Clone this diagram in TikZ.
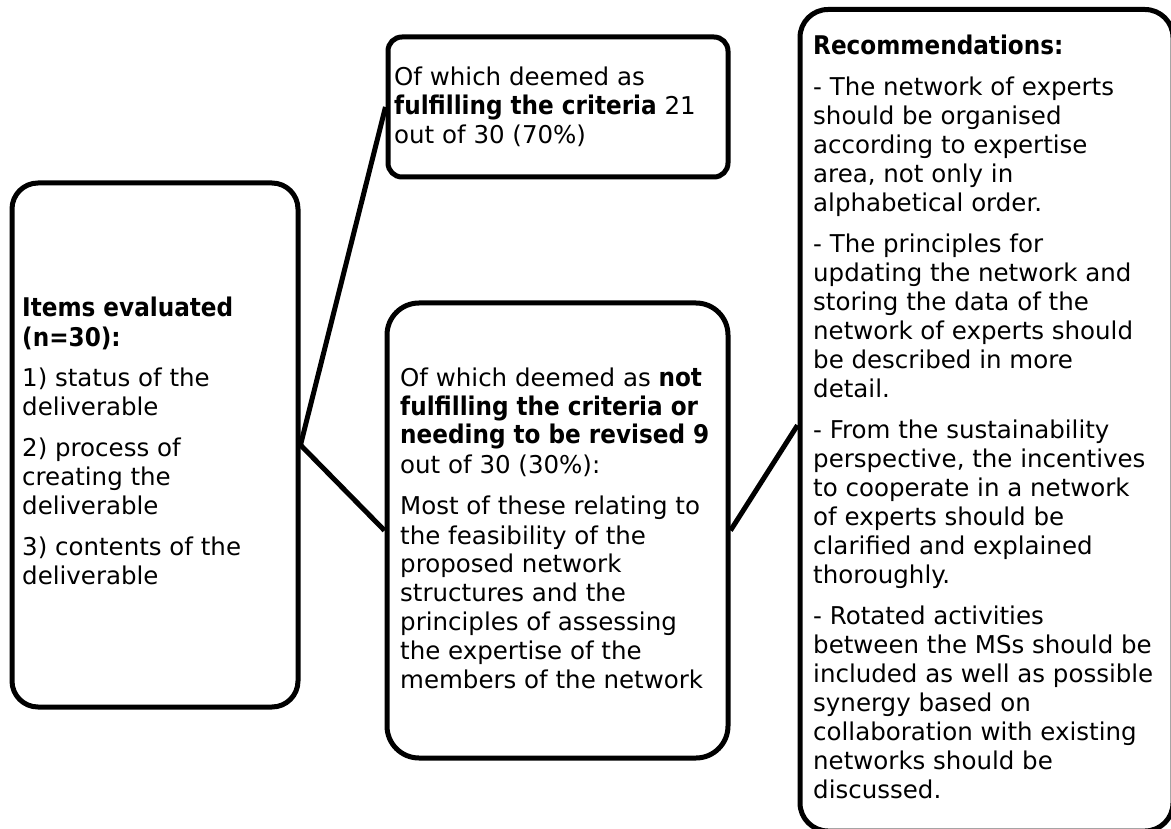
\documentclass[tikz,border=0pt]{standalone}
\usepackage{fontspec}
\setmainfont{DejaVu Sans}[BoldFont={DejaVu Sans Condensed Bold}, BoldFeatures={Scale=1.05}]
\begin{document}
\begin{tikzpicture}[x=1pt,y=-1pt,
  box/.style={draw=black, line width=5pt, fill=white, inner sep=0pt},
  link/.style={draw=black, line width=5pt},
  txt/.style={anchor=base west, inner sep=0pt, font=\fontsize{24.5}{29}\selectfont}]
\useasboundingbox (0,0) rectangle (1171,829);

% boxes (centre, size, corner radius)
\node[box, rounded corners=26pt, minimum width=286pt, minimum height=524pt] (items) at (155,445) {};
\node[box, rounded corners=14pt, minimum width=340pt, minimum height=140pt] (pass) at (558,107) {};
\node[box, rounded corners=32pt, minimum width=341pt, minimum height=455pt] (fail) at (557.5,530.5) {};
\node[box, rounded corners=28pt, minimum width=373pt, minimum height=821.5pt] (rec) at (986.5,420.25) {};

% connectors
\draw[link] (items.east) -- (pass.west);
\draw[link] (items.east) -- (fail.west);
\draw[link] (fail.east) -- ([yshift=-5pt]rec.west);

% texts
\node[txt] (itemstxt) at (22,317) {\parbox[t]{270pt}{\raggedright\parskip=12pt
\textbf{Items evaluated}\\\textbf{(n=30):}\par
1) status of the\\deliverable\par
2) process of\\creating the\\deliverable\par
3) contents of the\\deliverable}};

\node[txt] (passtxt) at (394,86) {\parbox[t]{330pt}{\raggedright
Of which deemed as\\\textbf{fulfilling the criteria} 21\\out of 30 (70\%)}};

\node[txt] (failtxt) at (400,386) {\parbox[t]{325pt}{\raggedright\parskip=13pt
Of which deemed as \textbf{not}\\\textbf{fulfilling the criteria or}\\\textbf{needing to be revised 9}\\out of 30 (30\%):\par
Most of these relating to\\the feasibility of the\\proposed network\\structures and the\\principles of assessing\\the expertise of the\\members of the network}};

\node[txt] (rectxt) at (813,55) {\parbox[t]{355pt}{\raggedright\parskip=12pt
\textbf{Recommendations:}\par
- The network of experts\\should be organised\\according to expertise\\area, not only in\\alphabetical order.\par
- The principles for\\updating the network and\\storing the data of the\\network of experts should\\be described in more\\detail.\par
- From the sustainability\\perspective, the incentives\\to cooperate in a network\\of experts should be\\clarified and explained\\thoroughly.\par
- Rotated activities\\between the MSs should be\\included as well as possible\\synergy based on\\collaboration with existing\\networks should be\\discussed.}};
\end{tikzpicture}
\end{document}
